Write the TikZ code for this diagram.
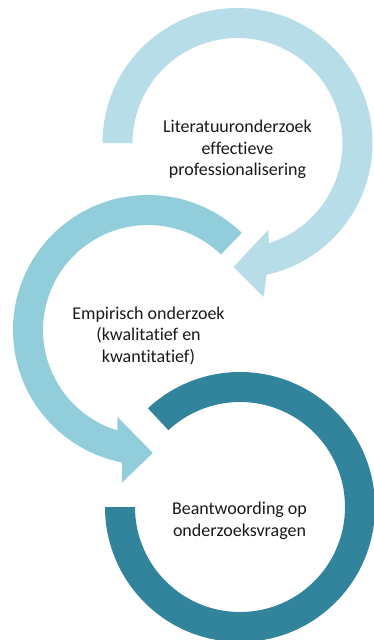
\documentclass[tikz,border=0pt]{standalone}
\usepackage{fontspec}
\setmainfont[Ligatures=NoCommon]{Carlito}
\definecolor{cone}{HTML}{B7DEE8}
\definecolor{ctwo}{HTML}{92CDDC}
\definecolor{cthree}{HTML}{31849B}
\begin{document}
\begin{tikzpicture}[x=1pt,y=1pt,
  lbl/.style={align=center,font=\fontsize{18}{21.5}\selectfont,text=black!90,inner sep=0pt}]
\useasboundingbox (0,0) rectangle (374,-640);
% ring 1
\begin{scope}[shift={(237.5,-143)}]
\fill[cone] (180:135pt) arc[start angle=180,end angle=-77.5,radius=135pt]
  -- (-80.4:156pt) -- (-91.8:124pt) -- (-70.4:92pt) -- (-72.6:105pt)
  arc[start angle=-72.6,end angle=180,radius=105pt] -- cycle;
\end{scope}
% ring 2
\begin{scope}[shift={(148,-330)}]
\fill[ctwo] (46:135pt) arc[start angle=46,end angle=258.8,radius=135pt]
  -- (260.3:155pt) -- (272.2:123pt) -- (250.5:92pt) -- (253.1:105pt)
  arc[start angle=253.1,end angle=46,radius=105pt] -- cycle;
\end{scope}
% ring 3
\begin{scope}[shift={(240,-507)}]
\fill[cthree] (133:135pt) arc[start angle=133,end angle=-180,radius=135pt]
  -- (180:105pt) arc[start angle=180,end angle=493,radius=105pt] -- cycle;
\end{scope}
\node[lbl] (t1) at (237.5,-149.5) {Literatuuronderzoek\\effectieve\\professionalisering};
\node[lbl] (t2) at (148.5,-335.5) {Empirisch onderzoek\\(kwalitatief en\\kwantitatief)};
\node[lbl] (t3) at (239.5,-521) {Beantwoording op\\onderzoeksvragen};
\end{tikzpicture}
\end{document}
